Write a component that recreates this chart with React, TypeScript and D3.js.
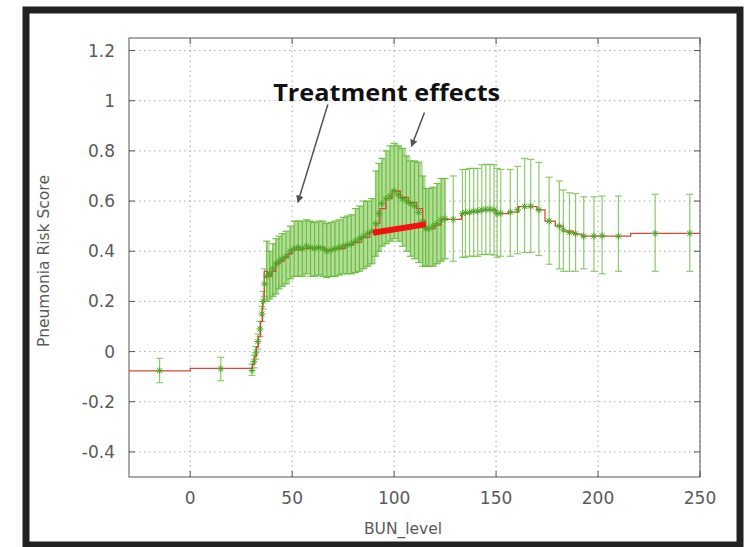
import React from "react";
import * as d3 from "d3";

const width = 748;
const height = 547;
const margin = { left: 129, right: 48, top: 38, bottom: 70 };

// binned means with error bars (BUN_level vs risk score)
const binX = [-15, 15, 30.3, 31.3, 32.2, 33.2, 34.2, 35.2, 35.8, 36.5,
  37.5, 39, 40.5, 42, 43.5, 45, 47, 49, 51, 53, 55, 57, 59, 61, 63, 65, 67, 69, 71, 73, 75, 77, 79,
  81, 83, 85, 87, 89, 91, 92.5, 94, 96, 98, 100, 102, 104, 106, 108, 110, 112, 114, 115.5, 117,
  119, 121, 123, 125, 129, 133.5, 135, 137, 139, 141, 143, 145, 147, 149, 150.5, 152.3, 157,
  160.5, 164, 167, 171, 176, 181, 183, 186, 189, 193, 198, 202, 210, 228, 245];
const binMean = [-0.076, -0.069, -0.075, -0.04, -0.005, 0.04, 0.09, 0.15, 0.2, 0.27,
  0.3, 0.31, 0.33, 0.35, 0.36, 0.37, 0.38, 0.4, 0.41, 0.415, 0.41, 0.42, 0.415, 0.41, 0.415, 0.41, 0.4, 0.405, 0.41, 0.415, 0.42, 0.425, 0.43,
  0.44, 0.45, 0.46, 0.47, 0.48, 0.51, 0.55, 0.59, 0.61, 0.62, 0.64, 0.625, 0.61, 0.6, 0.59, 0.58, 0.555, 0.52, 0.49, 0.49,
  0.5, 0.51, 0.525, 0.53, 0.527, 0.55, 0.555, 0.555, 0.56, 0.56, 0.565, 0.567, 0.567, 0.565, 0.55, 0.552, 0.556,
  0.565, 0.578, 0.58, 0.565, 0.52, 0.5, 0.485, 0.475, 0.47, 0.46, 0.46, 0.462, 0.46, 0.471, 0.471];
const binLow = [-0.124, -0.116, -0.095, -0.065, -0.03, 0.01, 0.06, 0.12, 0.17, 0.22,
  0.2, 0.21, 0.22, 0.23, 0.25, 0.26, 0.27, 0.29, 0.3, 0.3, 0.3, 0.31, 0.3, 0.3, 0.305, 0.3, 0.295, 0.3, 0.3, 0.305, 0.31, 0.31, 0.31,
  0.315, 0.32, 0.33, 0.34, 0.35, 0.38, 0.4, 0.42, 0.43, 0.44, 0.45, 0.44, 0.42, 0.4, 0.38, 0.37, 0.355, 0.34, 0.34, 0.34,
  0.34, 0.35, 0.36, 0.37, 0.36, 0.376, 0.376, 0.38, 0.38, 0.38, 0.387, 0.387, 0.387, 0.385, 0.375, 0.38, 0.38,
  0.39, 0.395, 0.395, 0.383, 0.348, 0.33, 0.32, 0.32, 0.32, 0.33, 0.32, 0.31, 0.32, 0.32, 0.32];
const binHigh = [-0.027, -0.023, -0.05, -0.015, 0.02, 0.07, 0.12, 0.18, 0.24, 0.33,
  0.44, 0.4, 0.43, 0.45, 0.46, 0.47, 0.48, 0.5, 0.52, 0.52, 0.52, 0.525, 0.52, 0.515, 0.52, 0.52, 0.51, 0.515, 0.52, 0.525, 0.535, 0.54, 0.545,
  0.57, 0.58, 0.6, 0.6, 0.61, 0.72, 0.75, 0.77, 0.8, 0.82, 0.83, 0.82, 0.81, 0.78, 0.76, 0.76, 0.755, 0.7, 0.65, 0.65,
  0.655, 0.67, 0.69, 0.69, 0.7, 0.726, 0.726, 0.73, 0.73, 0.73, 0.745, 0.746, 0.746, 0.745, 0.73, 0.726, 0.726,
  0.738, 0.77, 0.766, 0.754, 0.695, 0.68, 0.644, 0.633, 0.63, 0.617, 0.617, 0.62, 0.62, 0.627, 0.627];

// learned shape function (red step line)
const shapeX = [-30, 0, 30, 30.5, 31.5, 32.5, 33.5, 34.5, 35.5, 36.3, 38, 40, 42, 44, 46, 48, 50, 55, 60, 66, 70, 76,
  80, 84, 88, 91, 93, 96, 99, 103, 107, 111, 114, 115.5, 120, 123, 133, 137, 143, 150, 156, 161, 170,
  174, 179, 183, 188, 192, 216, 250];
const shapeY = [-0.077, -0.067, -0.067, -0.05, -0.02, 0.02, 0.06, 0.12, 0.2, 0.32, 0.3, 0.32, 0.35, 0.36, 0.375, 0.39, 0.405, 0.41, 0.415, 0.405, 0.41, 0.425,
  0.435, 0.455, 0.475, 0.51, 0.57, 0.61, 0.64, 0.615, 0.595, 0.57, 0.52, 0.49, 0.505, 0.527, 0.55, 0.558, 0.565, 0.55, 0.556, 0.578, 0.565,
  0.52, 0.5, 0.48, 0.468, 0.46, 0.471, 0.471];

// treatment effect segment and annotation arrows (data coords)
const effectX = [89.7, 115.4];
const effectY = [0.474, 0.507];
const arrowFromX = [67.5, 114.9];
const arrowFromY = [0.985, 0.953];
const arrowToX = [52.8, 108.5];
const arrowToY = [0.595, 0.818];

const xTicks = [0, 50, 100, 150, 200, 250];
const yTicks = [-0.4, -0.2, 0, 0.2, 0.4, 0.6, 0.8, 1, 1.2];
const yTickLabels = ["-0.4", "-0.2", "0", "0.2", "0.4", "0.6", "0.8", "1", "1.2"];

const x = d3.scaleLinear().domain([-30, 250]).range([margin.left, width - margin.right]);
const y = d3.scaleLinear().domain([-0.5, 1.25]).range([height - margin.bottom, margin.top]);

const bins = binX.map((v, i) => ({ x: v, m: binMean[i], lo: binLow[i], hi: binHigh[i] }));
const dense = bins.filter((d) => d.x >= 37 && d.x <= 126);

const band = d3
  .area<any>()
  .x((d) => x(d.x))
  .y0((d) => y(d.lo))
  .y1((d) => y(d.hi))
  .curve(d3.curveStepAfter)(dense);

const shape = d3
  .line<number>()
  .x((d) => x(d))
  .y((d, i) => y(shapeY[i]))
  .curve(d3.curveStepAfter)(shapeX);

const font = "'DejaVu Sans', sans-serif";
const grey = "#555";

function Star({ cx, cy }: { cx: number; cy: number }) {
  const r = 3.5;
  const q = r * 0.72;
  return (
    <g stroke="#4aa822" strokeWidth={1}>
      <line x1={cx - r} x2={cx + r} y1={cy} y2={cy} />
      <line x1={cx} x2={cx} y1={cy - r} y2={cy + r} />
      <line x1={cx - q} x2={cx + q} y1={cy - q} y2={cy + q} />
      <line x1={cx - q} x2={cx + q} y1={cy + q} y2={cy - q} />
    </g>
  );
}

export default function App() {
  const x0 = margin.left;
  const x1 = width - margin.right;
  const y0 = height - margin.bottom;
  const y1 = margin.top;
  return (
    <svg width={width} height={height} style={{ position: "absolute", left: 0, top: 0, background: "#fff" }}>
      <defs>
        <marker id="head" viewBox="0 0 10 10" refX="9" refY="5" markerWidth="5" markerHeight="5" orient="auto">
          <path d="M0,0 L10,5 L0,10 z" fill={grey} />
        </marker>
        <clipPath id="plot">
          <rect x={x0} y={y1} width={x1 - x0} height={y0 - y1} />
        </clipPath>
      </defs>
      <rect x={26} y={10} width={714} height={535} fill="#fff" stroke="#222" strokeWidth={7} />

      {/* grid */}
      <g stroke="#aaa" strokeWidth={1} strokeDasharray="1.5,3.5">
        {xTicks.map((t) => (
          <line key={t} x1={x(t)} x2={x(t)} y1={y0} y2={y1} />
        ))}
        {yTicks.map((t) => (
          <line key={t} x1={x0} x2={x1} y1={y(t)} y2={y(t)} />
        ))}
      </g>

      <g clipPath="url(#plot)">
        <path d={band ?? ""} fill="#a3d782" opacity={0.85} />
        <g stroke="#66ba3c" strokeWidth={1.2}>
          {bins.map((d, i) => (
            <g key={i} opacity={d.x >= 37 && d.x <= 126 ? 0.9 : 0.75}>
              <line x1={x(d.x)} x2={x(d.x)} y1={y(d.lo)} y2={y(d.hi)} />
              <line x1={x(d.x) - 3.5} x2={x(d.x) + 3.5} y1={y(d.lo)} y2={y(d.lo)} />
              <line x1={x(d.x) - 3.5} x2={x(d.x) + 3.5} y1={y(d.hi)} y2={y(d.hi)} />
            </g>
          ))}
        </g>
        <path d={shape ?? ""} fill="none" stroke="#d9473c" strokeWidth={1.3} />
        {bins.map((d, i) => (
          <Star key={i} cx={x(d.x)} cy={y(d.m)} />
        ))}
        <line
          x1={x(effectX[0])}
          y1={y(effectY[0])}
          x2={x(effectX[1])}
          y2={y(effectY[1])}
          stroke="#f21010"
          strokeWidth={6}
        />
      </g>

      {/* frame and ticks */}
      <rect x={x0} y={y1} width={x1 - x0} height={y0 - y1} fill="none" stroke={grey} strokeWidth={1} />
      <g stroke={grey} strokeWidth={1}>
        {xTicks.map((t) => (
          <g key={t}>
            <line x1={x(t)} x2={x(t)} y1={y0} y2={y0 - 6} />
            <line x1={x(t)} x2={x(t)} y1={y1} y2={y1 + 6} />
          </g>
        ))}
        {yTicks.map((t) => (
          <g key={t}>
            <line x1={x0} x2={x0 + 6} y1={y(t)} y2={y(t)} />
            <line x1={x1} x2={x1 - 6} y1={y(t)} y2={y(t)} />
          </g>
        ))}
      </g>
      <g fontFamily={font} fontSize={17} fill="#5a5a5a">
        {xTicks.map((t) => (
          <text key={t} x={x(t)} y={y0 + 27} textAnchor="middle">
            {t}
          </text>
        ))}
        {yTicks.map((t, i) => (
          <text key={t} x={x0 - 14} y={y(t) + 6} textAnchor="end">
            {yTickLabels[i]}
          </text>
        ))}
      </g>
      <text x={403} y={534} fontFamily={font} fontSize={15.5} fill="#5a5a5a" textAnchor="middle">
        BUN_level
      </text>
      <text
        transform={`translate(49,${261}) rotate(-90)`}
        fontFamily={font}
        fontSize={15.5}
        fill="#5a5a5a"
        textAnchor="middle"
      >
        Pneumonia Risk Score
      </text>

      {/* annotation */}
      <text
        x={x(40.7)}
        y={y(1.0)}
        fontFamily="'Open Sans', sans-serif"
        fontWeight="bold"
        fontSize={24}
        fill="#111"
        textLength={227}
        lengthAdjust="spacingAndGlyphs"
      >
        Treatment effects
      </text>
      {arrowFromX.map((v, i) => (
        <line
          key={i}
          x1={x(v)}
          y1={y(arrowFromY[i])}
          x2={x(arrowToX[i])}
          y2={y(arrowToY[i])}
          stroke={grey}
          strokeWidth={1.5}
          markerEnd="url(#head)"
        />
      ))}
    </svg>
  );
}
